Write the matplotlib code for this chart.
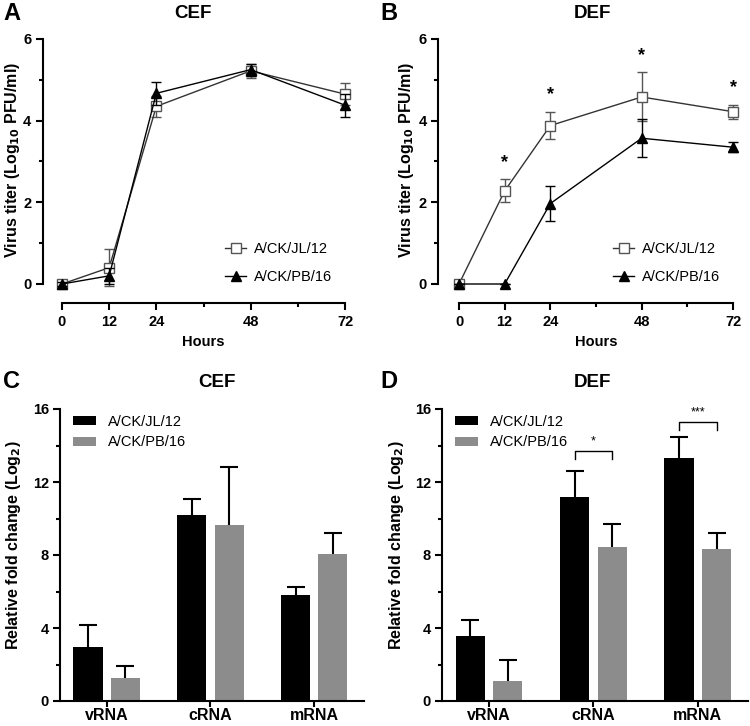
"""Virus growth curves and RNA fold change, CEF vs DEF."""
import numpy as np
import matplotlib
matplotlib.use('Agg')
import matplotlib.pyplot as plt
from matplotlib.lines import Line2D

plt.rcParams['font.family'] = ['Liberation Sans', 'DejaVu Sans']

W, H = 750, 726

# ---- data: growth curves ----
hours = [0, 12, 24, 48, 72]
strains = ['A/CK/JL/12', 'A/CK/PB/16']

cef_jl = [0.0, 0.40, 4.35, 5.22, 4.65]
cef_jl_err = [0.05, 0.45, 0.25, 0.17, 0.27]
cef_pb = [0.0, 0.20, 4.67, 5.25, 4.38]
cef_pb_err = [0.05, 0.20, 0.28, 0.15, 0.28]

def_jl = [0.0, 2.28, 3.88, 4.58, 4.22]
def_jl_err = [0.05, 0.28, 0.34, 0.60, 0.17]
def_pb = [0.0, 0.0, 1.97, 3.57, 3.35]
def_pb_err = [0.0, 0.0, 0.42, 0.47, 0.12]
def_star_hours = [12, 24, 48, 72]

# ---- data: RNA fold change ----
rna_types = ['vRNA', 'cRNA', 'mRNA']
cef_rna_jl = [2.97, 10.2, 5.8]
cef_rna_jl_err = [1.18, 0.89, 0.43]
cef_rna_pb = [1.27, 9.65, 8.05]
cef_rna_pb_err = [0.64, 3.17, 1.15]

def_rna_jl = [3.57, 11.2, 13.3]
def_rna_jl_err = [0.88, 1.42, 1.18]
def_rna_pb = [1.08, 8.42, 8.35]
def_rna_pb_err = [1.17, 1.28, 0.85]
def_sig_idx = [1, 2]
def_sig_text = ['*', '***']


def px_axes(fig, left, top, right, bottom):
    return fig.add_axes([left / W, 1 - bottom / H, (right - left) / W, (bottom - top) / H])


def style_axes(ax):
    for s in ['top', 'right']:
        ax.spines[s].set_visible(False)
    for s in ['left', 'bottom']:
        ax.spines[s].set_linewidth(1.5)
    ax.tick_params(which='major', length=5, width=1.5, labelsize=10.5, pad=3)
    ax.tick_params(which='minor', length=3, width=1.5)
    for lbl in ax.get_xticklabels() + ax.get_yticklabels():
        lbl.set_fontweight('bold')


def set_ylabel_px(ax, fig, text, x, y):
    ax.set_ylabel(text, fontsize=11.5, fontweight='bold', va='center')
    ax.yaxis.set_label_coords(x / W, 1 - y / H, transform=fig.transFigure)


def growth_panel(ax, jl, jl_err, pb, pb_err, offset_left):
    ax.errorbar(hours, jl, yerr=jl_err, color='#333333', lw=1, marker='s', ms=7,
                mfc='white', mec='#555555', mew=1, capsize=3.5, elinewidth=1,
                ecolor='#555555', clip_on=False, zorder=3)
    ax.errorbar(hours, pb, yerr=pb_err, color='black', lw=1, marker='^', ms=7,
                mfc='black', mec='black', capsize=3.5, elinewidth=1,
                ecolor='black', clip_on=False, zorder=4)
    ax.set_xlim(0, 72)
    ax.set_ylim(0, 6)
    ax.set_xticks([0, 12, 24, 48, 72])
    ax.set_xticks([36, 60], minor=True)
    ax.set_yticks([0, 2, 4, 6])
    ax.set_yticks([1, 3, 5], minor=True)
    ax.spines['left'].set_position(('outward', offset_left))
    ax.spines['bottom'].set_position(('outward', 14))
    ax.spines['left'].set_bounds(0, 6)
    ax.spines['bottom'].set_bounds(0, 72)
    style_axes(ax)
    ax.set_xlabel('Hours', fontsize=10.5, fontweight='bold', labelpad=5)
    h = [Line2D([], [], color='#333333', lw=1, marker='s', ms=7, mfc='white', mec='#555555'),
         Line2D([], [], color='black', lw=1, marker='^', ms=7, mfc='black', mec='black')]
    ax.legend(h, strains, loc='lower right', bbox_to_anchor=(1.0, -0.055), frameon=False,
              fontsize=10.5, handlelength=1.5, handletextpad=0.5, labelspacing=0.95)


def bar_errors(ax, x, y, err):
    top = np.array(y) + np.array(err)
    ax.vlines(x, y, top, color='black', lw=1.5, zorder=1)
    ax.plot(x, top, ls='none', marker='_', ms=13, mew=1.5, color='black', zorder=1)


def rna_panel(ax, jl, jl_err, pb, pb_err):
    x = np.arange(len(rna_types))
    bw = 0.28
    bar_errors(ax, x - 0.18, jl, jl_err)
    bar_errors(ax, x + 0.18, pb, pb_err)
    ax.bar(x - 0.18, jl, bw, color='black', zorder=2, label=strains[0])
    ax.bar(x + 0.18, pb, bw, color='#8c8c8c', zorder=2, label=strains[1])
    ax.set_xlim(-0.45, 2.48)
    ax.set_ylim(0, 16)
    ax.set_xticks(x)
    ax.set_xticklabels(rna_types)
    ax.set_yticks([0, 4, 8, 12, 16])
    ax.set_yticks([2, 6, 10, 14], minor=True)
    style_axes(ax)
    ax.tick_params(axis='x', labelsize=11.5, length=4, pad=1)
    ax.legend(loc='upper left', bbox_to_anchor=(0.0, 1.025), frameon=False, fontsize=10.5,
              handlelength=1.6, handleheight=0.55, handletextpad=0.8, labelspacing=0.45)


fig = plt.figure(figsize=(W / 100, H / 100), dpi=100)

axA = px_axes(fig, 62, 39, 345, 284)
growth_panel(axA, cef_jl, cef_jl_err, cef_pb, cef_pb_err, 14)
set_ylabel_px(axA, fig, 'Virus titer (Log$_{\\mathbf{10}}$ PFU/ml)', 13, 160)

axB = px_axes(fig, 459, 39, 733, 284)
growth_panel(axB, def_jl, def_jl_err, def_pb, def_pb_err, 15)
set_ylabel_px(axB, fig, 'Virus titer (Log$_{\\mathbf{10}}$ PFU/ml)', 406, 160)
for h in def_star_hours:
    i = hours.index(h)
    axB.text(h, def_jl[i] + def_jl_err[i] + 0.42, '*', ha='center', va='center',
             fontsize=13, fontweight='bold')

axC = px_axes(fig, 60, 409, 364, 701)
rna_panel(axC, cef_rna_jl, cef_rna_jl_err, cef_rna_pb, cef_rna_pb_err)
set_ylabel_px(axC, fig, 'Relative fold change (Log$_{\\mathbf{2}}$)', 14, 545)

axD = px_axes(fig, 442, 409, 748, 701)
rna_panel(axD, def_rna_jl, def_rna_jl_err, def_rna_pb, def_rna_pb_err)
set_ylabel_px(axD, fig, 'Relative fold change (Log$_{\\mathbf{2}}$)', 396, 545)
for i, star, yb in zip(def_sig_idx, def_sig_text, [13.7, 15.3]):
    axD.plot([i - 0.18, i - 0.18, i + 0.18, i + 0.18], [yb - 0.45, yb, yb, yb - 0.45],
             color='black', lw=1)
    axD.text(i, yb + 0.2, star, ha='center', va='bottom', fontsize=9)

# titles and panel letters
for x, y, t in [(193, 14, 'CEF'), (592, 14, 'DEF'), (217, 383, 'CEF'), (592, 383, 'DEF')]:
    fig.text(x / W, 1 - y / H, t, ha='center', va='center', fontsize=13.5, fontweight='bold')
for x, y, t in [(3, 14, 'A'), (380, 14, 'B'), (3, 381, 'C'), (380, 381, 'D')]:
    fig.text(x / W, 1 - y / H, t, ha='left', va='center', fontsize=17, fontweight='bold')

fig.savefig('out.png', dpi=100)
